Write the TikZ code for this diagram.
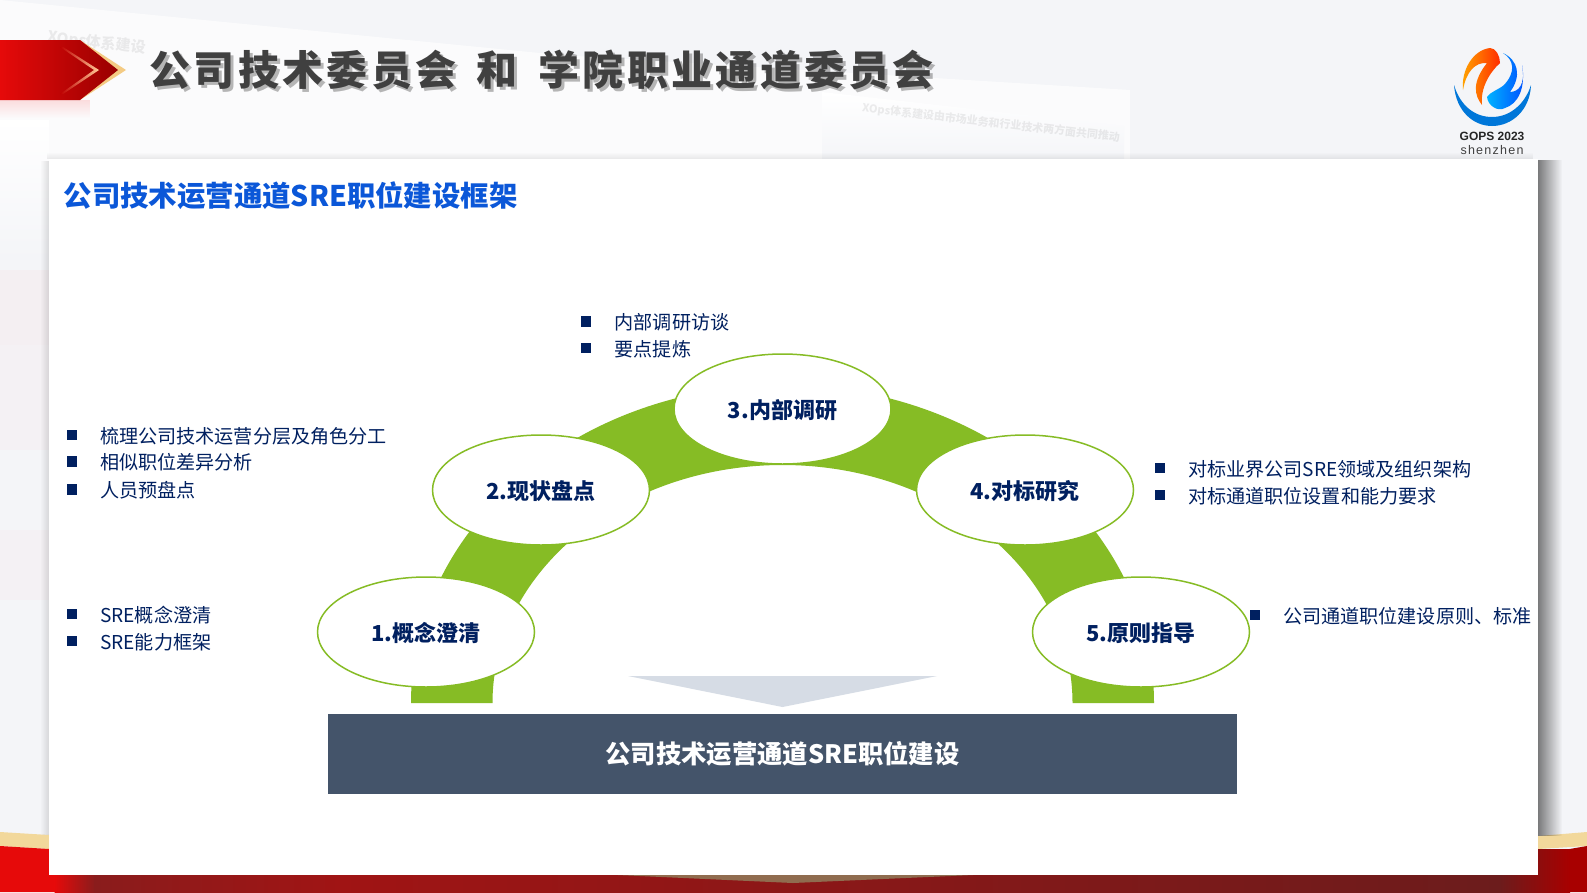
\documentclass[tikz,border=0pt]{standalone}
\usepackage{fontspec}
\setmainfont{Noto Sans CJK SC}
\newfontfamily\titlefont[LetterSpace=8]{Noto Sans CJK SC}
\newfontfamily\logofont{Liberation Sans}
\newfontfamily\cityfont[LetterSpace=10]{Liberation Sans}
\usetikzlibrary{shapes.geometric,fadings}
\definecolor{pagebg}{HTML}{F4F5F8}
\definecolor{bandred}{HTML}{E60A0A}
\definecolor{bandedge}{HTML}{8A1C1C}
\definecolor{bandmid}{HTML}{A01414}
\definecolor{banddark}{HTML}{6C1C1C}
\definecolor{bandend}{HTML}{A80000}
\definecolor{gold}{HTML}{F2D89B}
\definecolor{navy}{HTML}{002060}
\definecolor{leaf}{HTML}{86BC25}
\definecolor{slate}{HTML}{44546A}
\definecolor{pale}{HTML}{D6DCE5}
\tikzset{
  stage/.style={ellipse,draw=leaf,line width=1.5pt,fill=white,minimum width=217pt,minimum height=110pt,inner sep=0pt,
    text height=22pt,text depth=2.5pt,font=\fontsize{22}{26}\selectfont\bfseries,text=navy},
  bul/.style={rectangle,fill=navy,minimum width=10.5pt,minimum height=10.5pt,inner sep=0pt},
  item/.style={anchor=west,inner sep=0pt,font=\fontsize{19.1}{23}\selectfont,text=navy},
  ghost/.style={anchor=west,inner sep=0pt,rotate=-6.6,font=\fontsize{15}{18}\selectfont\bfseries,text=black,text opacity=0.07},
  headtext/.style={anchor=west,inner sep=0pt,font=\titlefont\fontsize{41}{46}\selectfont\bfseries},
}
\begin{document}
\begin{tikzpicture}[x=1pt,y=-1pt]
            \useasboundingbox (0,0) rectangle (1587,892);
            \fill[pagebg] (0,0) rectangle (1587,892);
            \fill[white,opacity=0.65] (0,0) -- (560,55) -- (1130,90) -- (1130,160) -- (0,160) -- cycle;
            \shade[top color=white,bottom color=pagebg] (0,120) rectangle (49,260);
            \fill[red,opacity=0.025] (0,270) rectangle (49,345);
            \fill[red,opacity=0.015] (0,345) rectangle (49,450);
            \fill[red,opacity=0.015] (0,530) rectangle (49,600);
            \shade[top color=white,bottom color=pagebg] (822,92) -- (1124,126) -- (1124,160) -- (822,160) -- cycle;
            \node[ghost] (ghostleft) at (48,37) {XOps体系建设};
            \node[ghost,font=\fontsize{11}{14}\selectfont\bfseries] (ghostright) at (862,108) {XOps体系建设由市场业务和行业技术两方面共同推动};
            \fill[gold] (0,832) -- (49,835) -- (1538,836) -- (1587,832) -- (1587,846) -- (1538,849) -- (49,849) -- (0,846) -- cycle;
            \fill[bandred] (0,846) -- (49,849) -- (55,849) -- (55,892) -- (0,892) -- cycle;
            \shade[left color=bandred,right color=bandedge] (54.5,849) rectangle (95,892);
            \shade[left color=bandedge,right color=bandmid] (94.5,849) rectangle (340,892);
            \shade[left color=bandmid,right color=banddark] (339.5,849) rectangle (1500,892);
            \shade[left color=banddark,right color=bandend] (1499.5,849) rectangle (1570,892);
            \fill[bandend] (1569.5,849) -- (1587,846) -- (1587,892) -- (1569.5,892) -- cycle;
            \fill[black,opacity=0.5,path fading=east] (1538,160) rectangle (1562,836);
            \fill[black,opacity=0.12,path fading=west] (40,160) rectangle (49,835);
            \fill[black,opacity=0.08,path fading=north] (49,152) rectangle (1538,159);
            \fill[white] (49,159) rectangle (1538,875);
            \fill[gold!60!black,opacity=0.8] (618,875) -- (973,875) -- (793,883) -- cycle;
            \fill[red,opacity=0.12,path fading=south] (0,100) rectangle (90,118);
            \fill[gold!85!orange] (80,40) -- (126,70) -- (80,100) -- cycle;
            \shade[left color=bandred,right color=red!60!black] (0,40) -- (80,40) -- (118,70) -- (80,100) -- (0,100) -- cycle;
            \shade[left color=red!75!black,right color=orange!40!white] (60,47) -- (63,47) -- (99,70) -- (63,94) -- (60,94) -- (94,70) -- cycle;
            \node[headtext,text=black,text opacity=0.28] (titleshadow) at (152.5,73) {公司技术委员会 \hspace{7pt}和 \hspace{9pt}学院职业通道委员会};
            \node[headtext,text=black!75] (title) at (149.5,70) {公司技术委员会 \hspace{7pt}和 \hspace{9pt}学院职业通道委员会};
            \fill[blue!45!cyan!85!black] (1454,85) .. controls (1456,112) and (1474,126) .. (1492,126) .. controls (1512,126) and (1530,110) .. (1531,85) .. controls (1525,104) and (1510,117) .. (1492,117) .. controls (1474,117) and (1460,105) .. (1454,85) -- cycle;
            \shade[left color=orange!70!yellow,right color=red!65!orange] (1463,90) .. controls (1461,70) and (1473,50) .. (1490,48) .. controls (1496,48) and (1500,56) .. (1500,63) .. controls (1490,72) and (1480,88) .. (1482,105) .. controls (1474,95) and (1472,82) .. (1487,63) .. controls (1475,62) and (1466,72) .. (1463,90) -- cycle;
            \shade[left color=cyan!70!blue,right color=blue!70!cyan] (1503,53) .. controls (1514,60) and (1516,72) .. (1504,85) .. controls (1498,90) and (1490,92) .. (1487,97) .. controls (1488,106) and (1498,112) .. (1505,108) .. controls (1518,104) and (1526,88) .. (1522,65) .. controls (1526,85) and (1518,92) .. (1510,92) .. controls (1522,76) and (1518,60) .. (1503,53) -- cycle;
            \node[inner sep=0pt,text=black!85,font=\logofont\fontsize{12}{14}\selectfont\bfseries] (logoname) at (1492,136) {GOPS 2023};
            \node[inner sep=0pt,text=black!75,font=\cityfont\fontsize{12.5}{14}\selectfont] (logocity) at (1492,150) {shenzhen};
            \node[anchor=west,inner sep=0pt,text={rgb,255:red,11;green,87;blue,216},font=\fontsize{28.4}{33}\selectfont\bfseries] (heading) at (63.5,196) {公司技术运营通道SRE职位建设框架};
            \fill[leaf] (411,703) arc[start angle=180,end angle=0,x radius=371.5pt,y radius=318pt] -- (1072.5,703) arc[start angle=0,end angle=180,x radius=290pt,y radius=238pt] -- cycle;
            \node[stage] (concept) at (426,632) {1.概念澄清};
            \node[stage] (status) at (541,490) {2.现状盘点};
            \node[stage] (survey) at (782.5,409) {3.内部调研};
            \node[stage] (bench) at (1025,490) {4.对标研究};
            \node[stage] (guide) at (1141,632) {5.原则指导};
            \fill[pale] (628,676) -- (937,676) -- (782.5,707) -- cycle;
            \node[rectangle,fill=slate,minimum width=909pt,minimum height=80pt,inner sep=0pt,text height=22pt,text depth=3pt,text=white,font=\fontsize{25.3}{30}\selectfont\bfseries] (goal) at (782.5,753.5) {公司技术运营通道SRE职位建设};
            \node[bul] (bulla) at (586,321.5) {};
            \node[item] (itema) at (614.5,322) {内部调研访谈};
            \node[bul] (bullb) at (586,348) {};
            \node[item] (itemb) at (614.5,349) {要点提炼};
            \node[bul] (bullc) at (72,435) {};
            \node[item] (itemc) at (100,436) {梳理公司技术运营分层及角色分工};
            \node[bul] (bulld) at (72,461.5) {};
            \node[item] (itemd) at (100,462.5) {相似职位差异分析};
            \node[bul] (bulle) at (72,489.5) {};
            \node[item] (iteme) at (100,490.5) {人员预盘点};
            \node[bul] (bullf) at (72,614) {};
            \node[item] (itemf) at (100,615) {SRE概念澄清};
            \node[bul] (bullg) at (72,641) {};
            \node[item] (itemg) at (100,642) {SRE能力框架};
            \node[bul] (bullh) at (1160,468) {};
            \node[item] (itemh) at (1188,469.5) {对标业界公司SRE领域及组织架构};
            \node[bul] (bulli) at (1160,495) {};
            \node[item] (itemi) at (1188,496) {对标通道职位设置和能力要求};
            \node[bul] (bullj) at (1255,615) {};
            \node[item] (itemj) at (1283,616) {公司通道职位建设原则、标准};
\end{tikzpicture}
\end{document}
